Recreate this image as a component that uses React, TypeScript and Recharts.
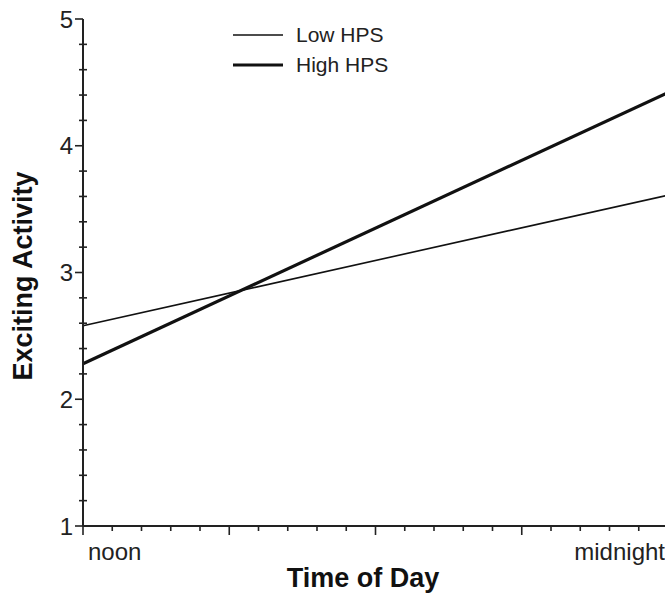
import React from 'react';
import { LineChart, Line, XAxis, YAxis, Legend, Label } from 'recharts';

// x positions: 0 = noon, 1 = midnight
const timeLabels = ['noon', 'midnight'];
const timePos = [0, 1];
const lowHPS = [2.58, 3.61];
const highHPS = [2.28, 4.42];
const yMajorTicks = [1, 2, 3, 4, 5];

const data = timePos.map((t, i) => ({ t, label: timeLabels[i], low: lowHPS[i], high: highHPS[i] }));

// minor ticks: 20 steps on x, 5 per unit on y
const xTicks = Array.from({ length: 21 }, (_, i) => i / 20);
const yTicks = Array.from({ length: 21 }, (_, i) => 1 + i / 5);

const FONT = '"Liberation Sans", Arial, Helvetica, sans-serif';
const INK = '#222';

const XTick = (props: any) => {
  const { x, y, payload } = props;
  const v = payload.value;
  const major = Math.abs(v * 4 - Math.round(v * 4)) < 1e-6;
  const idx = timePos.findIndex((p) => Math.abs(p - v) < 1e-6);
  return (
    <g>
      <line x1={x} x2={x} y1={y} y2={y + (major ? 9 : 5)} stroke={INK} strokeWidth={1.6} />
      {idx >= 0 && (
        <text
          x={idx === 0 ? x + 5 : x - 3}
          y={y + 34}
          textAnchor={idx === 0 ? 'start' : 'end'}
          fontSize={24}
          fontFamily={FONT}
          fill="#222"
        >
          {timeLabels[idx]}
        </text>
      )}
    </g>
  );
};

const YTick = (props: any) => {
  const { x, y, payload } = props;
  const v = payload.value;
  const major = yMajorTicks.some((m) => Math.abs(m - v) < 1e-6);
  return (
    <g>
      {major ? (
        <line x1={x - 8} x2={x} y1={y} y2={y} stroke={INK} strokeWidth={1.6} />
      ) : (
        <line x1={x - 4} x2={x + 4} y1={y} y2={y} stroke={INK} strokeWidth={1.6} />
      )}
      {major && (
        <text x={x - 10} y={y} dy="0.36em" textAnchor="end" fontSize={24} fontFamily={FONT} fill="#222">
          {Math.round(v)}
        </text>
      )}
    </g>
  );
};

const LegendBox = () => (
  <div style={{ fontFamily: FONT, fontSize: 21, color: '#222' }}>
    {[
      { name: 'Low HPS', w: 1.6 },
      { name: 'High HPS', w: 3.2 },
    ].map((r) => (
      <div key={r.name} style={{ display: 'flex', alignItems: 'center', height: 30 }}>
        <svg width={50} height={30} style={{ display: 'block' }}>
          <line x1={0} x2={50} y1={15} y2={15} stroke="#111" strokeWidth={r.w} />
        </svg>
        <span style={{ marginLeft: 13, lineHeight: '30px' }}>{r.name}</span>
      </div>
    ))}
  </div>
);

export default function App() {
  return (
    <div style={{ position: 'absolute', left: 0, top: 0, width: 665, height: 594, overflow: 'hidden', background: '#fff' }}>
      <LineChart width={670} height={594} data={data} margin={{ top: 19, right: 2, bottom: 0, left: 0 }}>
        <XAxis
          dataKey="t"
          type="number"
          domain={[0, 1]}
          ticks={xTicks}
          interval={0}
          tickSize={0}
          tickMargin={0}
          tickLine={false}
          tick={<XTick />}
          height={68}
          axisLine={{ stroke: INK, strokeWidth: 2 }}
        >
          <Label
            content={() => (
              <text x={363} y={587} textAnchor="middle" fontSize={27} fontWeight="bold" fontFamily={FONT} fill="#111">
                Time of Day
              </text>
            )}
          />
        </XAxis>
        <YAxis
          type="number"
          domain={[1, 5]}
          ticks={yTicks}
          interval={0}
          tickSize={0}
          tickMargin={0}
          tickLine={false}
          tick={<YTick />}
          width={83}
          axisLine={{ stroke: INK, strokeWidth: 2 }}
        >
          <Label
            content={() => (
              <text
                x={0}
                y={0}
                transform="translate(32, 276) rotate(-90)"
                textAnchor="middle"
                fontSize={27}
                fontWeight="bold"
                fontFamily={FONT}
                fill="#111"
              >
                Exciting Activity
              </text>
            )}
          />
        </YAxis>
        <Legend
          layout="vertical"
          align="center"
          verticalAlign="middle"
          content={<LegendBox />}
          wrapperStyle={{ left: 233, top: 20, width: 'auto' }}
        />
        <Line type="linear" dataKey="low" name="Low HPS" stroke="#111" strokeWidth={1.6} dot={false} isAnimationActive={false} />
        <Line type="linear" dataKey="high" name="High HPS" stroke="#111" strokeWidth={3.2} dot={false} isAnimationActive={false} />
      </LineChart>
    </div>
  );
}
